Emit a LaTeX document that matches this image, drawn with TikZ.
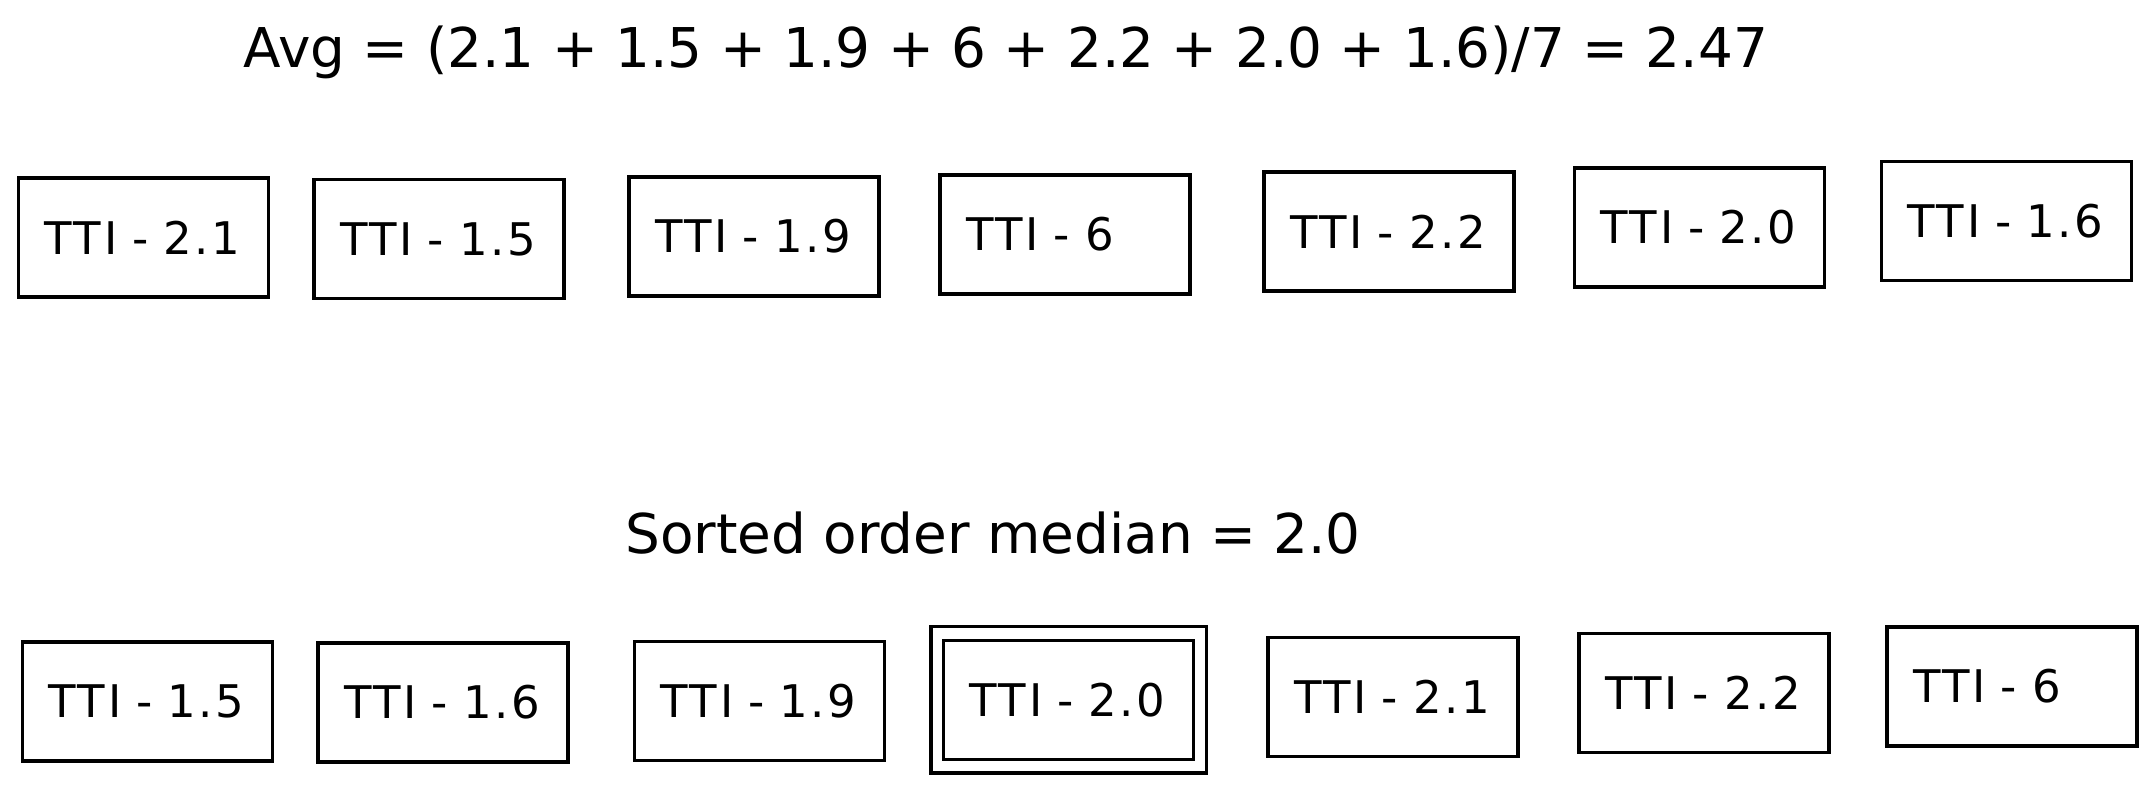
\documentclass[tikz,border=0pt]{standalone}
\usepackage{fontspec}
\setmainfont{DejaVu Sans}
\newfontfamily\boxfont[LetterSpace=6]{DejaVu Sans}
\usetikzlibrary{fit}
\begin{document}
\begin{tikzpicture}[x=1cm,y=-1cm,
  ttibox/.style={draw, line width=1pt, minimum width=2.5cm, minimum height=1.19cm,
    text width=1.98cm, inner xsep=0.26cm, inner ysep=0pt, align=left,
    font=\boxfont\fontsize{12.8}{15}\selectfont},
  heading/.style={font=\fontsize{15.6}{19}\selectfont, inner sep=0pt},
  medianframe/.style={draw, line width=1pt, inner xsep=0.11cm, inner ysep=0.12cm}
]
\useasboundingbox (0,0) rectangle (21.55,7.95);
\node[heading] (avg) at (10.06,0.52) {Avg = (2.1 + 1.5 + 1.9 + 6 + 2.2 + 2.0 + 1.6)/7 = 2.47};
% top row
\node[ttibox] (t1) at (1.435,2.375) {TTI - 2.1};
\node[ttibox] (t2) at (4.39,2.39) {TTI - 1.5};
\node[ttibox] (t3) at (7.54,2.365) {TTI - 1.9};
\node[ttibox] (t4) at (10.65,2.345) {TTI - 6};
\node[ttibox] (t5) at (13.89,2.315) {TTI - 2.2};
\node[ttibox] (t6) at (16.995,2.275) {TTI - 2.0};
\node[ttibox] (t7) at (20.065,2.21) {TTI - 1.6};
% sorted
\node[heading] (sorted) at (9.93,5.33) {Sorted order median = 2.0};
\node[ttibox] (b1) at (1.475,7.015) {TTI - 1.5};
\node[ttibox] (b2) at (4.43,7.025) {TTI - 1.6};
\node[ttibox] (b3) at (7.595,7.01) {TTI - 1.9};
\node[ttibox] (b4) at (10.685,7.00) {TTI - 2.0};
\node[ttibox] (b5) at (13.93,6.97) {TTI - 2.1};
\node[ttibox] (b6) at (17.04,6.93) {TTI - 2.2};
\node[ttibox] (b7) at (20.12,6.865) {TTI - 6};
\node[medianframe, fit=(b4)] (mframe) {};
\end{tikzpicture}
\end{document}
